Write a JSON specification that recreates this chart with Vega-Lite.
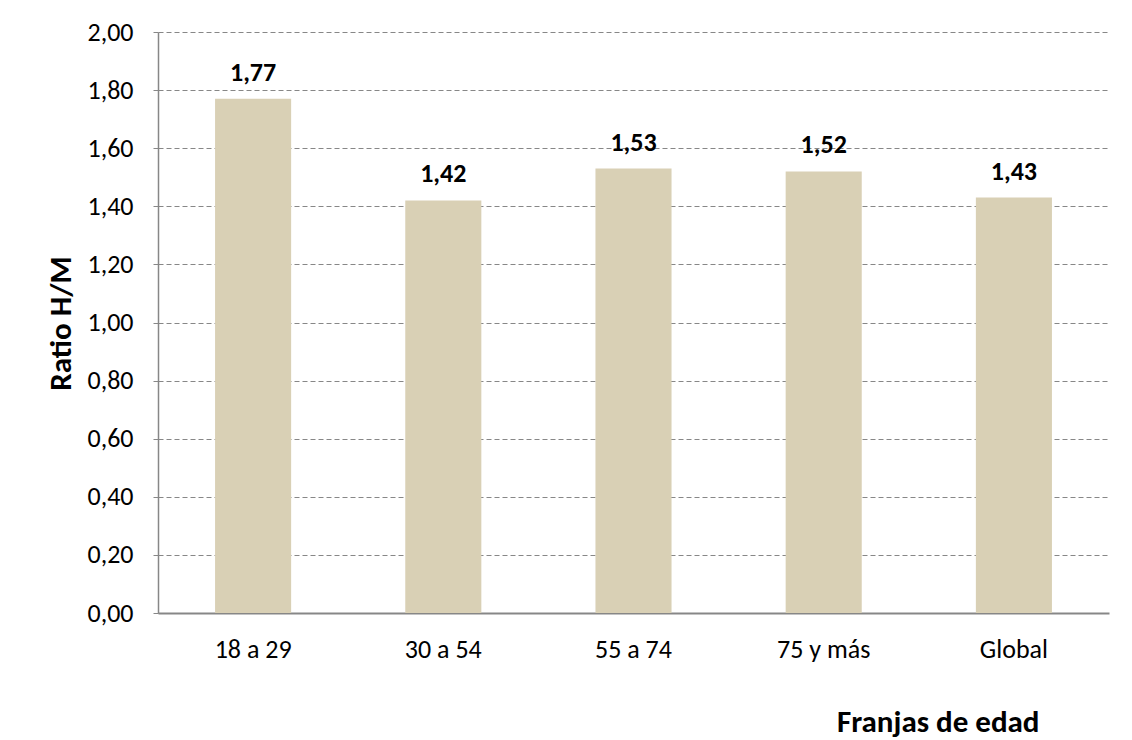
{
  "$schema": "https://vega.github.io/schema/vega-lite/v6.json",
  "width": 951,
  "height": 581,
  "autosize": {"type": "none"},
  "padding": {"left": 158, "top": 32, "right": 23, "bottom": 127},
  "background": "white",
  "config": {
    "view": {"stroke": null},
    "font": "Carlito, Lato, sans-serif"
  },
  "data": {
    "values": [
      {"franja": "18 a 29", "ratio": 1.77},
      {"franja": "30 a 54", "ratio": 1.42},
      {"franja": "55 a 74", "ratio": 1.53},
      {"franja": "75 y más", "ratio": 1.52},
      {"franja": "Global", "ratio": 1.43}
    ]
  },
  "encoding": {
    "x": {
      "field": "franja",
      "type": "nominal",
      "sort": null,
      "scale": {"paddingInner": 0.6, "paddingOuter": 0.3},
      "axis": {
        "title": "Franjas de edad",
        "titleFontSize": 31,
        "titleFontWeight": "bold",
        "titleColor": "#000000",
        "titleAnchor": null,
        "titleAlign": "right",
        "titleBaseline": "alphabetic",
        "titleX": 881,
        "titleY": 118,
        "labelAngle": 0,
        "labelFontSize": 26,
        "labelColor": "#000000",
        "labelPadding": 44,
        "labelBaseline": "alphabetic",
        "ticks": false,
        "domainColor": "#878787",
        "domainWidth": 2,
        "grid": false
      }
    },
    "y": {
      "field": "ratio",
      "type": "quantitative",
      "scale": {"domain": [0, 2], "nice": false},
      "axis": {
        "title": "Ratio H/M",
        "titleFontSize": 31,
        "titleFontWeight": "bold",
        "titleColor": "#000000",
        "titleAngle": -90,
        "titleAnchor": null,
        "titleAlign": "center",
        "titleBaseline": "alphabetic",
        "titleX": -88,
        "titleY": 291,
        "values": [0, 0.2, 0.4, 0.6, 0.8, 1, 1.2, 1.4, 1.6, 1.8, 2],
        "labelExpr": "replace(format(datum.value, '.2f'), '.', ',')",
        "labelFontSize": 26,
        "labelColor": "#000000",
        "labelPadding": 17,
        "tickSize": 8,
        "tickColor": "#878787",
        "tickDash": [5, 3],
        "domainColor": "#878787",
        "domainWidth": 1.5,
        "grid": true,
        "gridColor": "#878787",
        "gridDash": [5, 3],
        "gridWidth": 1
      }
    }
  },
  "layer": [
    {
      "mark": {"type": "bar", "color": "#d9d0b5"}
    },
    {
      "transform": [
        {"calculate": "replace(format(datum.ratio, '.2f'), '.', ',')", "as": "etiqueta"}
      ],
      "mark": {
        "type": "text",
        "fontWeight": "bold",
        "fontSize": 26,
        "baseline": "alphabetic",
        "dy": -18,
        "color": "#000000"
      },
      "encoding": {
        "text": {"field": "etiqueta", "type": "nominal"}
      }
    }
  ]
}
